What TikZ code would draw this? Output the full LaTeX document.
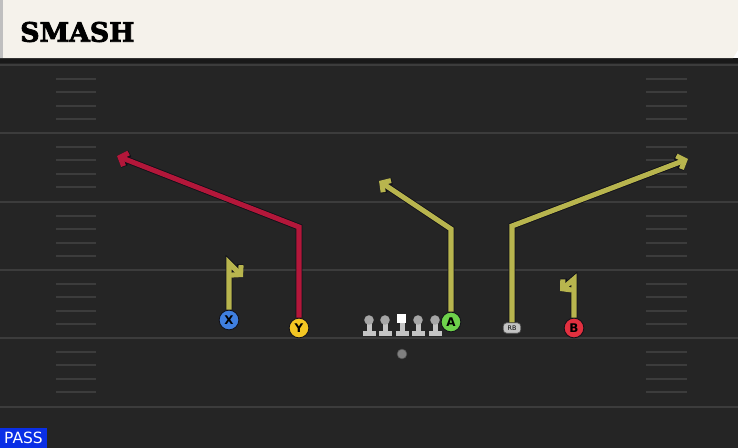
\documentclass[tikz,border=0pt]{standalone}
\usepackage{fontspec}
\setsansfont{DejaVu Sans}
\newfontfamily\titlefont[FakeBold=3]{DejaVu Serif}
\usepackage{tikz}
\usetikzlibrary{arrows.meta,shapes}
\definecolor{fieldbg}{HTML}{252525}
\definecolor{yardline}{HTML}{3C3C3C}
\definecolor{headbg}{HTML}{F5F2EB}
\definecolor{routeyellow}{HTML}{B8B54E}
\definecolor{routered}{HTML}{B3173A}
\definecolor{routeedge}{HTML}{101018}
\definecolor{xblue}{HTML}{3F7FE0}
\definecolor{yyellow}{HTML}{F3C623}
\definecolor{agreen}{HTML}{6ED24B}
\definecolor{bred}{HTML}{E2303F}
\definecolor{linegray}{HTML}{C4C4C4}
\definecolor{passblue}{HTML}{0A2FE6}
\tikzstyle{route}=[line width=3.6pt, line join=miter, -{Straight Barb[length=4.5pt,width=10pt]},
  preaction={draw=routeedge, line width=4.8pt}]
\tikzstyle{hash}=[draw=yardline, line width=1.5pt]

\begin{document}
\begin{tikzpicture}[x=0.025cm,y=-0.025cm,
          player/.style={circle,draw=routeedge,line width=0.6pt,minimum size=14pt,inner sep=0pt,
            font=\sffamily\bfseries\fontsize{8.5}{8.5}\selectfont},
          lineman/.pic={
            \fill[linegray] (-6.5,11) rectangle (6.5,16);
            \fill[linegray] (-2.5,2) rectangle (2.5,11);
            \fill[black!35] (0,0) circle (3.4pt);}]
        \useasboundingbox (0,0) rectangle (738,448);
        % field and header
        \fill[fieldbg] (0,58) rectangle (738,448);
        \fill[black!90] (0,58) rectangle (738,63);
        \fill[headbg] (0,0) -- (738,0) -- (738,50) -- (733,58) -- (0,58) -- cycle;
        \fill[black!25] (0,0) rectangle (3,58);
        \node [anchor=west, inner sep=0pt, font=\titlefont\bfseries\fontsize{19}{19}\selectfont] (title) at (20,32) {SMASH};
        % yard lines and hash marks
        \foreach \yl in {65,133,202,270,338,407}
          \draw[draw=yardline, line width=1.5pt] (0,\yl) -- (738,\yl);
        \foreach \yl in {65,133,202,270,338}
          \foreach \k in {1,...,4} {
            \draw[hash] (56,\yl+\k*13.6) -- (96,\yl+\k*13.6);
            \draw[hash] (646,\yl+\k*13.6) -- (687,\yl+\k*13.6);
          }
        % line and quarterback
        \foreach \lx in {369,385,418,435}
          \pic at (\lx,320) {lineman};
        \fill[linegray] (395.5,331) rectangle (408.5,336);
        \fill[linegray] (399.5,322) rectangle (404.5,331);
        \fill[white] (397,314) rectangle (406,322.5);
        \node [circle, fill=black!50, draw=black!70, minimum size=7pt, inner sep=0pt] (qb) at (402,354) {};
        % skill players
        \node [player, fill=xblue]   (X) at (229,320) {X};
        \node [player, fill=yyellow] (Y) at (299,328) {Y};
        \node [player, fill=agreen]  (A) at (451,322) {A};
        \node [player, fill=bred]    (B) at (574,328) {B};
        \node [rounded corners=2.5pt, fill=linegray, draw=black!70, line width=0.5pt, minimum width=12.5pt,
               minimum height=7.5pt, inner sep=0pt, font=\sffamily\fontsize{4.5}{4.5}\selectfont] (RB) at (512,328) {RB};
        % route breaks
        \coordinate (xbreak)  at (229,263);
        \coordinate (xend)    at (243,277);
        \coordinate (ybreak)  at (299,227);
        \coordinate (yend)    at (117,156);
        \coordinate (abreak)  at (451,229);
        \coordinate (aend)    at (379,181);
        \coordinate (rbbreak) at (512,226);
        \coordinate (rbend)   at (688,159);
        \coordinate (bbreak)  at (574,279);
        \coordinate (bend)    at (560,291);
        \draw [route, routeyellow] (X) -- (xbreak) -- (xend);
        \draw [route, routered]    (Y) -- (ybreak) -- (yend);
        \draw [route, routeyellow] (A) -- (abreak) -- (aend);
        \draw [route, routeyellow] (RB) -- (rbbreak) -- (rbend);
        \draw [route, routeyellow] (B) -- (bbreak) -- (bend);
        % play type
        \node [fill=passblue, text=white, anchor=south west, minimum width=33pt, minimum height=14pt,
               inner sep=1pt, font=\sffamily\fontsize{11}{11}\selectfont] (pass) at (0,448) {PASS};
      \end{tikzpicture}
\end{document}
